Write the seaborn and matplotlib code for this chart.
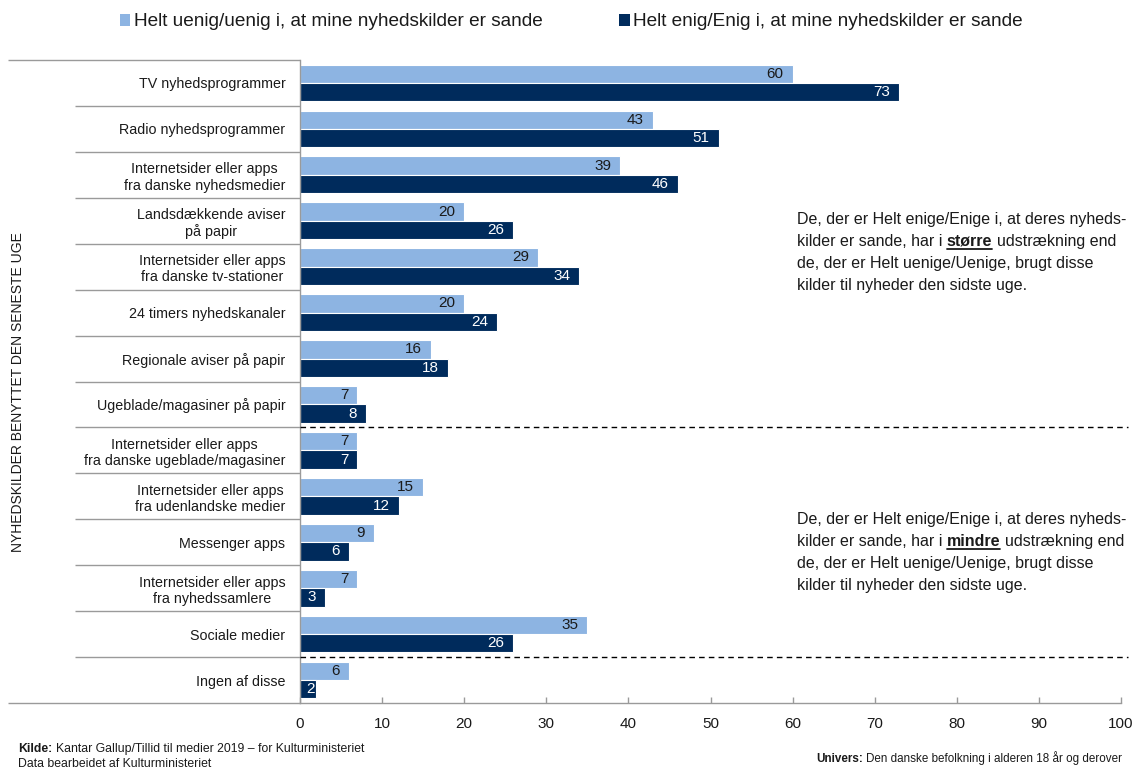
import matplotlib
matplotlib.use("Agg")
import matplotlib.pyplot as plt
from matplotlib.patches import Patch
from matplotlib.lines import Line2D
import seaborn as sns
import pandas as pd

# --- data ---------------------------------------------------------------
categories = [
    "TV nyhedsprogrammer",
    "Radio nyhedsprogrammer",
    "Internetsider eller apps\nfra danske nyhedsmedier",
    "Landsdækkende aviser\npå papir",
    "Internetsider eller apps\nfra danske tv-stationer",
    "24 timers nyhedskanaler",
    "Regionale aviser på papir",
    "Ugeblade/magasiner på papir",
    "Internetsider eller apps\nfra danske ugeblade/magasiner",
    "Internetsider eller apps\nfra udenlandske medier",
    "Messenger apps",
    "Internetsider eller apps\nfra nyhedssamlere",
    "Sociale medier",
    "Ingen af disse",
]
series_names = [
    "Helt uenig/uenig i, at mine nyhedskilder er sande",
    "Helt enig/Enig i, at mine nyhedskilder er sande",
]
disagree = [60, 43, 39, 20, 29, 20, 16, 7, 7, 15, 9, 7, 35, 6]
agree = [73, 51, 46, 26, 34, 24, 18, 8, 7, 12, 6, 3, 26, 2]
x_ticks = [0, 10, 20, 30, 40, 50, 60, 70, 80, 90, 100]
axis_title = "NYHEDSKILDER BENYTTET DEN SENESTE UGE"
note_more = ["De, der er Helt enige/Enige i, at deres nyheds-",
             ("kilder er sande, har i", "større", "udstrækning end"),
             "de, der er Helt uenige/Uenige, brugt disse",
             "kilder til nyheder den sidste uge."]
note_less = ["De, der er Helt enige/Enige i, at deres nyheds-",
             ("kilder er sande, har i", "mindre", "udstrækning end"),
             "de, der er Helt uenige/Uenige, brugt disse",
             "kilder til nyheder den sidste uge."]
source_lines = [("Kilde:", "Kantar Gallup/Tillid til medier 2019 – for Kulturministeriet"),
                ("", "Data bearbeidet af Kulturministeriet")]
universe = ("Univers:", "Den danske befolkning i alderen 18 år og derover")

LIGHT = "#8DB4E2"
DARK = "#002B5C"
TEXT = "#1A1A1A"
GRID = "#9A9A9A"

df = pd.DataFrame({
    "category": categories * 2,
    "value": disagree + agree,
    "series": [series_names[0]] * len(categories) + [series_names[1]] * len(categories),
})

# --- figure -------------------------------------------------------------
sns.set_style("white")
plt.rcParams["font.family"] = ["Liberation Sans", "DejaVu Sans"]

W, H = 1135, 769
AX_L, AX_R, AX_T, AX_B = 300, 1121, 60, 703
fig = plt.figure(figsize=(W / 100, H / 100), dpi=100)
ax = fig.add_axes([AX_L / W, 1 - AX_B / H, (AX_R - AX_L) / W, (AX_B - AX_T) / H])

sns.barplot(data=df, x="value", y="category", hue="series", orient="h",
            palette=[LIGHT, DARK], saturation=1, width=0.8, edgecolor="white",
            linewidth=0.8, ax=ax, legend=False)

n = len(categories)
ax.set_xlim(0, 100)
ax.set_ylim(n - 0.5, -0.5)
ax.set_xlabel("")
ax.set_ylabel("")
ax.set_xticks(x_ticks)
ax.set_xticklabels([str(t) for t in x_ticks])

for s in ("top", "right"):
    ax.spines[s].set_visible(False)
for s in ("left", "bottom"):
    ax.spines[s].set_color(GRID)
    ax.spines[s].set_linewidth(1)

ax.tick_params(axis="x", bottom=True, direction="in", length=4, width=1, color=GRID,
               labelsize=11, labelcolor=TEXT, pad=10)
ax.tick_params(axis="y", which="major", left=True, length=0, labelsize=10.3,
               labelcolor=TEXT, pad=10.5)
for lab in ax.get_yticklabels():
    lab.set_multialignment("center")

# inner row separators: long outward minor ticks left of the axis
ax.set_yticks([i + 0.5 for i in range(n - 1)], minor=True)
ax.tick_params(axis="y", which="minor", left=True, direction="out",
               length=(AX_L - 75) * 0.72, width=1, color=GRID)

# outer frame lines run further left, to the figure margin
x_left = -(AX_L - 8) / (AX_R - AX_L)
for yb in (-0.5, n - 0.5):
    ax.plot([x_left, 0], [yb, yb], transform=ax.get_yaxis_transform(),
            color=GRID, lw=1, clip_on=False, solid_capstyle="butt")

# dashed group dividers
for yb in (7.5, 12.5):
    ax.plot([0, 100.9], [yb, yb], color="black", lw=1, ls=(0, (4, 3)),
            clip_on=False, zorder=5)

# value labels inside the bar ends
px_per_unit = (AX_R - AX_L) / 100
for container, color in zip(ax.containers, [TEXT, "white"]):
    for bar in container:
        v = bar.get_width()
        yc = bar.get_y() + bar.get_height() / 2
        pad = -6.5 if v * px_per_unit > 22 else -1.0
        ax.annotate(f"{v:.0f}", xy=(v, yc), xytext=(pad, 0),
                    textcoords="offset points", ha="right", va="center",
                    fontsize=11, color=color, zorder=6)

# legend
handles = [Patch(facecolor=LIGHT, edgecolor="none"),
           Patch(facecolor=DARK, edgecolor="none")]
fig.legend(handles, series_names, loc="center", bbox_to_anchor=(0.5035, 1 - 22 / H),
           ncol=2, frameon=False, fontsize=13.7, handlelength=0.55, handleheight=0.55,
           handletextpad=0.2, columnspacing=4.0, labelcolor=TEXT)

# vertical axis title
fig.text(18 / W, 1 - 392 / H, axis_title, rotation=90, ha="center", va="center",
         fontsize=10, color=TEXT)

renderer = fig.canvas.get_renderer()


def text_width(s, **kw):
    t = fig.text(0, 0, s, **kw)
    w = t.get_window_extent(renderer).width
    t.remove()
    return w


def run(x_px, y_px, pieces, size, underline_idx=None):
    """Draw a line of text made of (string, bold) pieces on a common baseline."""
    space = text_width("i i", fontsize=size) - text_width("ii", fontsize=size)
    x = x_px
    for i, (s, bold) in enumerate(pieces):
        if not s:
            continue
        kw = dict(fontsize=size, color=TEXT, fontweight="bold" if bold else "normal")
        t = fig.text(x / W, 1 - y_px / H, s, ha="left", va="baseline", **kw)
        w = t.get_window_extent(renderer).width
        if i == underline_idx:
            fig.add_artist(Line2D([x / W, (x + w) / W],
                                  [1 - (y_px + 2.5) / H] * 2,
                                  transform=fig.transFigure, color=TEXT, lw=1.3))
        x += w + space


def note(x_px, y0_px, lines, step=22, size=11.5):
    for k, line in enumerate(lines):
        y = y0_px + k * step
        if isinstance(line, tuple):
            run(x_px, y, [(line[0], False), (line[1], True), (line[2], False)],
                size, underline_idx=1)
        else:
            run(x_px, y, [(line, False)], size)


note(797, 224, note_more)
note(797, 524, note_less)

# footer
run(18, 752, [(source_lines[0][0], True), (source_lines[0][1], False)], 8.8)
run(18, 767, [(source_lines[1][1], False)], 8.8)
run(816, 762, [(universe[0], True), (universe[1], False)], 8.4)

fig.savefig("out.png", dpi=100)
